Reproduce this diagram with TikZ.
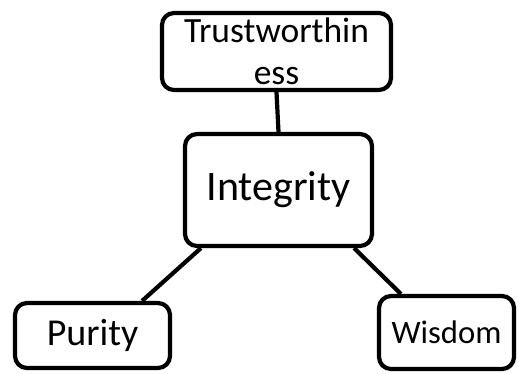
\documentclass[tikz,border=0pt]{standalone}
\usepackage{fontspec}
\setmainfont{Carlito}
\begin{document}
\begin{tikzpicture}[x=1pt,y=-1pt,
  box/.style={draw=black, line width=4.2pt, rounded corners=12pt, fill=white, inner sep=0pt, align=center},
  link/.style={draw=black, line width=4.2pt}]
\useasboundingbox (0,0) rectangle (518,373);
\node[box, minimum width=229pt, minimum height=77pt, font=\fontsize{35.5}{42}\selectfont] (trust) at (276.5,51.5) {Trustworthin\\ess};
\node[box, minimum width=187pt, minimum height=112pt, font=\fontsize{42}{50}\selectfont] (integ) at (278.5,190) {Integrity};
\node[box, minimum width=155pt, minimum height=65pt, font=\fontsize{38}{45}\selectfont] (purity) at (92.5,335.5) {Purity};
\node[box, minimum width=135pt, minimum height=73pt, font=\fontsize{32.7}{40}\selectfont] (wisdom) at (446.5,332.5) {Wisdom};
\draw[link] (trust.south) -- (integ.north);
\draw[link] ([xshift=18pt]integ.south west) -- ([xshift=-30pt]purity.north east);
\draw[link] ([xshift=-20pt]integ.south east) -- ([xshift=24pt]wisdom.north west);
\end{tikzpicture}
\end{document}
